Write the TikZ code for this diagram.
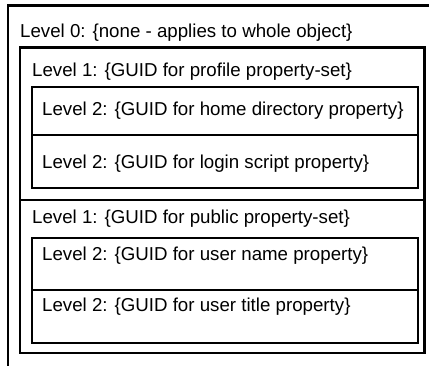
\documentclass[tikz,border=0pt]{standalone}
\usepackage{fontspec}
\setmainfont{Liberation Sans}
\begin{document}
\begin{tikzpicture}[x=1pt,y=-1pt,
  frame/.style={line width=2.2pt,line join=miter},
  divider/.style={line width=1.6pt},
  lbl/.style={anchor=base west,inner sep=0pt,font=\fontsize{18.7}{22}\selectfont}]
\useasboundingbox (0,0) rectangle (429,366);
% outer level-0 frame (cropped at right and bottom)
\draw[frame] (8,366) -- (8,5.5) -- (429,5.5);
% level-1 boxes
\draw[frame] (20,47.5) rectangle (424.5,353);
\draw[divider] (20,200) -- (424.5,200);
% level-2 boxes
\draw[frame] (32,87) rectangle (418,188);
\draw[divider] (32,135) -- (418,135);
\draw[frame] (32,238) rectangle (418,343);
\draw[divider] (32,290) -- (418,290);
% labels
\node[lbl] (l0) at (20,37.5) {Level 0: \{none - applies to whole object\}};
\node[lbl] (l1a) at (32,76.5) {Level 1: \{GUID for profile property-set\}};
\node[lbl] (l2a) at (42,115.5) {Level 2: \{GUID for home directory property\}};
\node[lbl] (l2b) at (42,168.5) {Level 2: \{GUID for login script property\}};
\node[lbl] (l1b) at (32,224) {Level 1: \{GUID for public property-set\}};
\node[lbl] (l2c) at (42,261) {Level 2: \{GUID for user name property\}};
\node[lbl] (l2d) at (42,312) {Level 2: \{GUID for user title property\}};
\end{tikzpicture}
\end{document}
